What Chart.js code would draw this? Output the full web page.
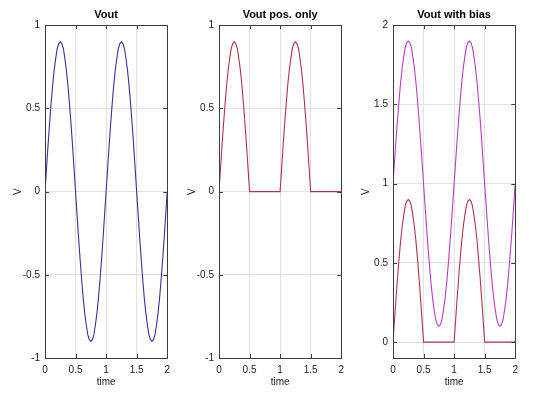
<!DOCTYPE html>
<html>
<head>
<meta charset="utf-8">
<script src="https://cdn.jsdelivr.net/npm/chart.js@4.4.1/dist/chart.umd.min.js"></script>
<style>
  body { margin: 0; background: #fff; }
  .box { position: absolute; top: 0; width: 176px; height: 396px; }
</style>
</head>
<body>
<div class="box" style="left:0px"><canvas id="c1"></canvas></div>
<div class="box" style="left:174px"><canvas id="c2"></canvas></div>
<div class="box" style="left:348px"><canvas id="c3"></canvas></div>
<script>
// time axis, step 0.025
const time = [0, 0.025, 0.05, 0.075, 0.1, 0.125, 0.15, 0.175, 0.2, 0.225,
  0.25, 0.275, 0.3, 0.325, 0.35, 0.375, 0.4, 0.425, 0.45, 0.475,
  0.5, 0.525, 0.55, 0.575, 0.6, 0.625, 0.65, 0.675, 0.7, 0.725,
  0.75, 0.775, 0.8, 0.825, 0.85, 0.875, 0.9, 0.925, 0.95, 0.975,
  1, 1.025, 1.05, 1.075, 1.1, 1.125, 1.15, 1.175, 1.2, 1.225,
  1.25, 1.275, 1.3, 1.325, 1.35, 1.375, 1.4, 1.425, 1.45, 1.475,
  1.5, 1.525, 1.55, 1.575, 1.6, 1.625, 1.65, 1.675, 1.7, 1.725,
  1.75, 1.775, 1.8, 1.825, 1.85, 1.875, 1.9, 1.925, 1.95, 1.975, 2];

const vout = [0, 0.14, 0.28, 0.41, 0.53, 0.64, 0.73, 0.80, 0.86, 0.89,
  0.9, 0.89, 0.86, 0.80, 0.73, 0.64, 0.53, 0.41, 0.28, 0.14,
  0, -0.14, -0.28, -0.41, -0.53, -0.64, -0.73, -0.80, -0.86, -0.89,
  -0.9, -0.89, -0.86, -0.80, -0.73, -0.64, -0.53, -0.41, -0.28, -0.14,
  0, 0.14, 0.28, 0.41, 0.53, 0.64, 0.73, 0.80, 0.86, 0.89,
  0.9, 0.89, 0.86, 0.80, 0.73, 0.64, 0.53, 0.41, 0.28, 0.14,
  0, -0.14, -0.28, -0.41, -0.53, -0.64, -0.73, -0.80, -0.86, -0.89,
  -0.9, -0.89, -0.86, -0.80, -0.73, -0.64, -0.53, -0.41, -0.28, -0.14, 0];

const voutPos = [0, 0.14, 0.28, 0.41, 0.53, 0.64, 0.73, 0.80, 0.86, 0.89,
  0.9, 0.89, 0.86, 0.80, 0.73, 0.64, 0.53, 0.41, 0.28, 0.14,
  0, 0, 0, 0, 0, 0, 0, 0, 0, 0,
  0, 0, 0, 0, 0, 0, 0, 0, 0, 0,
  0, 0.14, 0.28, 0.41, 0.53, 0.64, 0.73, 0.80, 0.86, 0.89,
  0.9, 0.89, 0.86, 0.80, 0.73, 0.64, 0.53, 0.41, 0.28, 0.14,
  0, 0, 0, 0, 0, 0, 0, 0, 0, 0,
  0, 0, 0, 0, 0, 0, 0, 0, 0, 0, 0];

const voutBias = [1, 1.14, 1.28, 1.41, 1.53, 1.64, 1.73, 1.80, 1.86, 1.89,
  1.9, 1.89, 1.86, 1.80, 1.73, 1.64, 1.53, 1.41, 1.28, 1.14,
  1, 0.86, 0.72, 0.59, 0.47, 0.36, 0.27, 0.20, 0.14, 0.11,
  0.1, 0.11, 0.14, 0.20, 0.27, 0.36, 0.47, 0.59, 0.72, 0.86,
  1, 1.14, 1.28, 1.41, 1.53, 1.64, 1.73, 1.80, 1.86, 1.89,
  1.9, 1.89, 1.86, 1.80, 1.73, 1.64, 1.53, 1.41, 1.28, 1.14,
  1, 0.86, 0.72, 0.59, 0.47, 0.36, 0.27, 0.20, 0.14, 0.11,
  0.1, 0.11, 0.14, 0.20, 0.27, 0.36, 0.47, 0.59, 0.72, 0.86, 1];

const xTicks = [0, 0.5, 1, 1.5, 2];
const yTicksA = [-1, -0.5, 0, 0.5, 1];
const yTicksB = [0, 0.5, 1, 1.5, 2];

const FONT = "'Liberation Sans', Arial, sans-serif";
const BLUE = "#34349a";
const RED = "#b03448";
const MAGENTA = "#b83cc4";

// octave-like box with inward ticks
const boxPlugin = {
  id: "box",
  afterDraw(chart) {
    const a = chart.chartArea;
    const ctx = chart.ctx;
    const xs = chart.scales.x, ys = chart.scales.y;
    ctx.save();
    ctx.strokeStyle = "#3c3c3c";
    ctx.lineWidth = 1;
    ctx.beginPath();
    xs.ticks.forEach(t => {
      const px = Math.round(xs.getPixelForValue(t.value)) + 0.5;
      ctx.moveTo(px, a.bottom); ctx.lineTo(px, a.bottom - 4);
      ctx.moveTo(px, a.top); ctx.lineTo(px, a.top + 4);
    });
    ys.ticks.forEach(t => {
      const py = Math.round(ys.getPixelForValue(t.value)) + 0.5;
      ctx.moveTo(a.left, py); ctx.lineTo(a.left + 4, py);
      ctx.moveTo(a.right, py); ctx.lineTo(a.right - 4, py);
    });
    ctx.stroke();
    ctx.strokeRect(Math.round(a.left) + 0.5, Math.round(a.top) + 0.5,
      Math.round(a.right - a.left), Math.round(a.bottom - a.top));
    ctx.restore();
  }
};

function makeChart(id, title, datasets, yMin, yMax, yTicks) {
  return new Chart(document.getElementById(id), {
    type: "line",
    data: { datasets: datasets },
    plugins: [boxPlugin],
    options: {
      responsive: true,
      maintainAspectRatio: false,
      animation: false,
      layout: { padding: { right: 3 } },
      elements: { point: { radius: 0 }, line: { tension: 0, borderWidth: 1.1 } },
      plugins: {
        legend: { display: false },
        tooltip: { enabled: false },
        title: {
          display: true,
          fullSize: false,
          text: title,
          color: "#000",
          font: { family: FONT, size: 11, weight: "bold" },
          padding: { top: 8, bottom: 4 }
        }
      },
      scales: {
        x: {
          type: "linear",
          min: 0, max: 2,
          afterBuildTicks: s => { s.ticks = xTicks.map(v => ({ value: v })); },
          afterFit: s => { s.height = 38; },
          grid: { color: "#e2e2e2", drawTicks: false },
          border: { display: false },
          ticks: {
            color: "#222", padding: 6, font: { family: FONT, size: 10 },
            callback: v => String(v)
          },
          title: {
            display: true, text: "time", color: "#222",
            font: { family: FONT, size: 10 }, padding: { top: 0, bottom: 8 }
          }
        },
        y: {
          type: "linear",
          min: yMin, max: yMax,
          afterBuildTicks: s => { s.ticks = yTicks.map(v => ({ value: v })); },
          afterFit: s => { s.width = 45; },
          grid: { color: "#e2e2e2", drawTicks: false },
          border: { display: false },
          ticks: {
            color: "#222", padding: 5, font: { family: FONT, size: 10 },
            callback: v => String(v)
          },
          title: {
            display: true, text: "V", color: "#222",
            font: { family: FONT, size: 10 }, padding: { top: 12, bottom: 0 }
          }
        }
      }
    }
  });
}

function series(values, color) {
  return {
    data: values.map((v, i) => ({ x: time[i], y: v })),
    borderColor: color,
    fill: false
  };
}

makeChart("c1", "Vout", [series(vout, BLUE)], -1, 1, yTicksA);
makeChart("c2", "Vout pos. only", [series(voutPos, RED)], -1, 1, yTicksA);
makeChart("c3", "Vout with bias", [series(voutPos, RED), series(voutBias, MAGENTA)], -0.1, 2, yTicksB);
</script>
</body>
</html>
